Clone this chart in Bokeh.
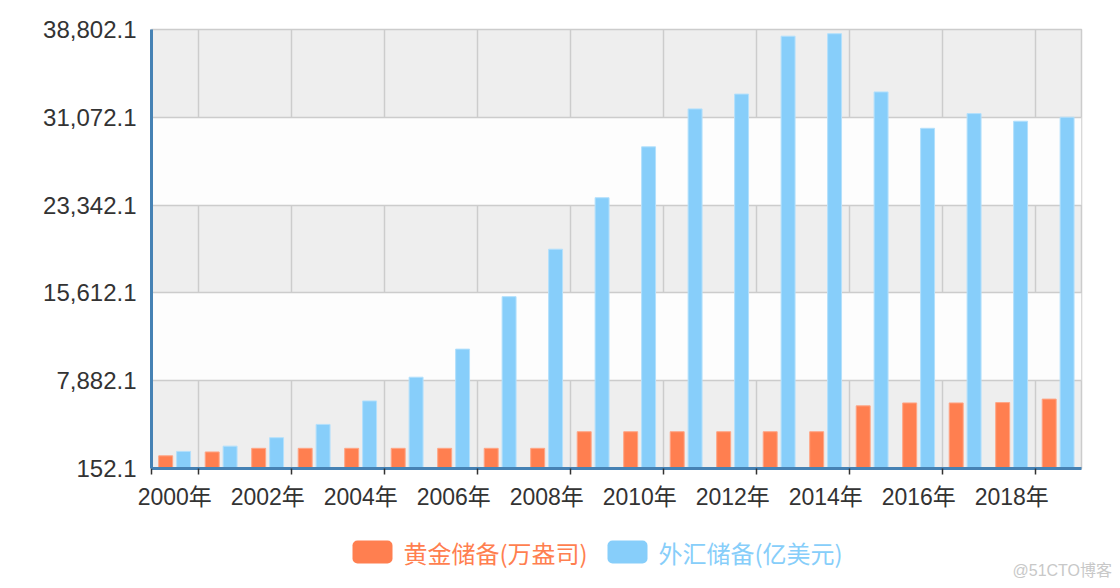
from bokeh.plotting import figure
from bokeh.layouts import column
from bokeh.models import Range1d, FixedTicker, NumeralTickFormatter, BoxAnnotation
from bokeh.core.properties import value
from bokeh.embed import file_html
from bokeh.resources import INLINE

# ---- data ----
years = ["2000年", "2001年", "2002年", "2003年", "2004年", "2005年", "2006年", "2007年",
         "2008年", "2009年", "2010年", "2011年", "2012年", "2013年", "2014年", "2015年",
         "2016年", "2017年", "2018年", "2019年"]
gold = [1267, 1608, 1929, 1929, 1929, 1929, 1929, 1929, 1929, 3389,
        3389, 3389, 3389, 3389, 3389, 5666, 5924, 5924, 5956, 6264]
forex = [1656, 2122, 2864, 4033, 6099, 8189, 10663, 15282, 19460, 23992,
         28473, 31811, 33116, 38213, 38430, 33304, 30105, 31399, 30727, 31079]
y_ticks = [152.1, 7882.1, 15612.1, 23342.1, 31072.1, 38802.1]
series_names = ["黄金储备(万盎司)", "外汇储备(亿美元)"]
fill_colors = ["#ff7f50", "#87cefa"]
edge_colors = ["#ffa585", "#b3e0fc"]

AX_FONT = "Liberation Sans, 'Noto Sans CJK SC'"
n = len(years)

p = figure(width=1120, height=520, output_backend="svg", toolbar_location=None,
           x_range=Range1d(0, n), y_range=Range1d(y_ticks[0], y_ticks[-1]),
           min_border_left=151, min_border_right=39, min_border_top=29,
           min_border_bottom=52)
p.frame_align = False

p.background_fill_color = "#eeeeee"
p.border_fill_color = "white"
p.outline_line_color = "#cccccc"
p.outline_line_width = 1.5

idx = list(range(n))
offsets = [-0.195, 0.19]
for vals, off, fc, ec in zip([gold, forex], offsets, fill_colors, edge_colors):
    p.vbar(x=[i + 0.5 + off for i in idx], top=vals, bottom=y_ticks[0], width=0.3,
           fill_color=fc, line_color=ec, line_width=1)

# grids
p.ygrid.ticker = FixedTicker(ticks=y_ticks)
p.ygrid.grid_line_color = "#cccccc"
p.ygrid.grid_line_width = 1.5
p.ygrid.band_fill_color = "#fdfdfd"
p.ygrid.band_fill_alpha = 1
p.xgrid.ticker = FixedTicker(ticks=[i for i in idx if i % 2 == 1])
p.xgrid.grid_line_color = "#cccccc"
p.xgrid.grid_line_width = 1.5

# x axis
label_pos = [i + 0.5 for i in idx if i % 2 == 0]
p.xaxis.ticker = FixedTicker(ticks=label_pos,
                             minor_ticks=[0] + [i for i in idx if i % 2 == 1])
p.xaxis.major_label_overrides = {i + 0.5: years[i] for i in idx if i % 2 == 0}
p.xaxis.major_tick_line_color = None
p.xaxis.major_tick_out = 0
p.xaxis.major_tick_in = 0
p.xaxis.minor_tick_out = 6
p.xaxis.minor_tick_in = 0
p.xaxis.minor_tick_line_color = "#333333"
p.xaxis.minor_tick_line_width = 1.5
p.xaxis.axis_line_color = "#4682b4"
p.xaxis.axis_line_width = 3
p.xaxis.major_label_standoff = 9
p.xaxis.major_label_text_font = AX_FONT
p.xaxis.major_label_text_font_size = "23px"
p.xaxis.major_label_text_color = "#333333"

# y axis
p.yaxis.ticker = FixedTicker(ticks=y_ticks)
p.yaxis.formatter = NumeralTickFormatter(format="0,0.0")
p.yaxis.major_tick_line_color = None
p.yaxis.major_tick_out = 0
p.yaxis.major_tick_in = 0
p.yaxis.minor_tick_line_color = None
p.yaxis.axis_line_color = "#4682b4"
p.yaxis.axis_line_width = 3
p.yaxis.major_label_standoff = 15
p.yaxis.major_label_text_font = AX_FONT
p.yaxis.major_label_text_font_size = "24px"
p.yaxis.major_label_text_color = "#333333"

# ---- legend strip (separate figure below) ----
lf = figure(width=1120, height=68, output_backend="svg", toolbar_location=None,
            x_range=Range1d(0, 1120), y_range=Range1d(0, 68),
            x_axis_type=None, y_axis_type=None, min_border=0)
lf.frame_align = False
lf.grid.visible = False
lf.outline_line_color = None
lf.background_fill_color = "white"
lf.border_fill_color = "white"

legend_x = [352, 607]
for name, fc, lx in zip(series_names, fill_colors, legend_x):
    lf.add_layout(BoxAnnotation(left=lx, right=lx + 40, top=48, bottom=25,
                                fill_color=fc, fill_alpha=1, line_color=None,
                                border_radius=5))
lf.text(x=[lx + 51 for lx in legend_x], y=[36.5, 36.5], text=series_names,
        text_color=fill_colors, text_font=value("Noto Sans CJK SC"),
        text_font_size=value("24px"), text_baseline="middle", text_align="left")
lf.text(x=[1012], y=[18], text=["@51CTO博客"], text_color="#c8c8c8",
        text_font=value(AX_FONT), text_font_size=value("16px"),
        text_baseline="middle", text_align="left")

layout = column(p, lf, spacing=0)
open("out.html", "w").write(file_html(layout, INLINE))
